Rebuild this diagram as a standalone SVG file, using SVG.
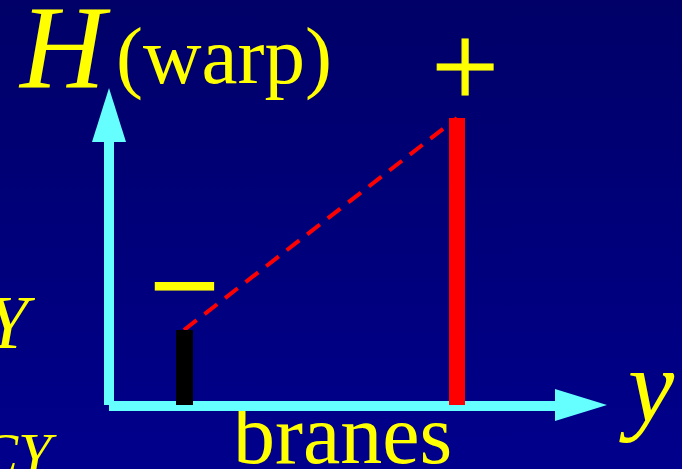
<svg xmlns="http://www.w3.org/2000/svg" width="682" height="469" viewBox="0 0 682 469">
<defs>
<linearGradient id="bg" x1="0" y1="0" x2="0" y2="1">
<stop offset="0" stop-color="#000068"/>
<stop offset="1" stop-color="#00008C"/>
</linearGradient>
</defs>
<style>
.t{fill:#FFFF00;font-family:"Liberation Serif","Times New Roman",serif}
.i{font-style:italic}
.axis{fill:#66FFFF}
</style>
<rect width="682" height="469" fill="url(#bg)"/>
<g id="labels">
<text class="t i" x="20" y="87" font-size="118">H</text>
<text class="t" x="116" y="83" font-size="81">(warp)</text>
<text class="t i" x="-14" y="348" font-size="76">Y</text>
<text class="t i" x="-22" y="474" font-size="60">CY</text>
<text class="t" x="233" y="463" font-size="84">branes</text>
<text class="t i" x="628" y="421" font-size="104">y</text>
</g>
<g id="axes">
<rect class="axis" x="104" y="140" width="10" height="265"/>
<polygon class="axis" points="109,88 126,142 92,142"/>
<rect class="axis" x="109" y="401" width="448" height="10"/>
<polygon class="axis" points="607,405 555,389 555,421"/>
</g>
<g id="connectors">
<line x1="184" y1="330" x2="457" y2="118" stroke="#FF0000" stroke-width="4" stroke-dasharray="16,10"/>
</g>
<g id="minus-brane">
<rect x="176" y="330" width="17" height="75" fill="#000000"/>
<text class="t" x="184.5" y="327" font-size="122" text-anchor="middle" stroke="#FFFF00" stroke-width="2.5">−</text>
</g>
<g id="plus-brane">
<rect x="449" y="118" width="16" height="287" fill="#FF0000"/>
<text class="t" x="465" y="107" font-size="120" text-anchor="middle" stroke="#FFFF00" stroke-width="1">+</text>
</g>
</svg>
